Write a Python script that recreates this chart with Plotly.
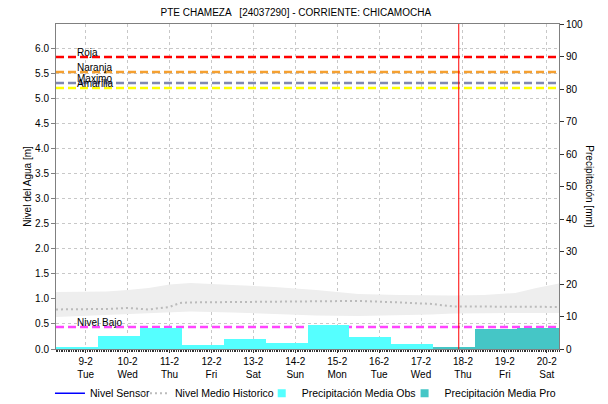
import plotly.graph_objects as go

# ---- data -------------------------------------------------------------
# daily precipitation totals (07:00 -> 07:00), mm
obs_start = ["2021-02-08", "2021-02-09", "2021-02-10", "2021-02-11", "2021-02-12",
             "2021-02-13", "2021-02-14", "2021-02-15", "2021-02-16"]
obs_mm = [0.4, 4.0, 6.6, 1.1, 3.0, 1.85, 7.4, 3.7, 1.5]

pro_start = ["2021-02-17", "2021-02-18", "2021-02-19"]
pro_mm = [0.5, 6.1, 6.5]

# historic level envelope and mean, m
hist_t = ["2021-02-08 07:00", "2021-02-09 12:00", "2021-02-10 00:00", "2021-02-10 12:00",
          "2021-02-11 00:00", "2021-02-11 06:00", "2021-02-11 12:00", "2021-02-12 12:00",
          "2021-02-13 12:00", "2021-02-14 12:00", "2021-02-15 12:00", "2021-02-16 12:00",
          "2021-02-17 06:00", "2021-02-17 18:00", "2021-02-18 12:00", "2021-02-19 06:00",
          "2021-02-19 18:00", "2021-02-20 07:00"]
hist_upper = [1.14, 1.15, 1.18, 1.22, 1.29, 1.31, 1.32, 1.28, 1.24, 1.18, 1.10, 1.08,
              1.07, 1.07, 1.08, 1.12, 1.22, 1.31]
hist_lower = [0.64, 0.68, 0.70, 0.72, 0.74, 0.75, 0.75, 0.73, 0.70, 0.67, 0.66, 0.67,
              0.69, 0.71, 0.72, 0.72, 0.72, 0.72]
hist_mean = [0.79, 0.80, 0.82, 0.79, 0.84, 0.92, 0.93, 0.94, 0.94, 0.96, 0.96, 0.93,
             0.90, 0.85, 0.85, 0.84, 0.84, 0.84]

# sensor level (no readings in this window)
sensor_t = ["2021-02-08 07:00"]
sensor_m = [None]

# alert thresholds, m
thr_names = ["Roja", "Naranja", "Maximo", "Amarilla", "Nivel Bajo"]
thr_values = [5.83, 5.53, 5.31, 5.21, 0.44]
thr_colors = ["#FF0000", "#F5A030", "#8088B0", "#FFFF00", "#FF44FF"]

now_t = "2021-02-17 21:36"

tick_vals = ["2021-02-%02d" % d for d in range(9, 21)]
tick_text = ["9-2<br>Tue", "10-2<br>Wed", "11-2<br>Thu", "12-2<br>Fri", "13-2<br>Sat",
             "14-2<br>Sun", "15-2<br>Mon", "16-2<br>Tue", "17-2<br>Wed", "18-2<br>Thu",
             "19-2<br>Fri", "20-2<br>Sat"]

x_range = ["2021-02-08 07:00", "2021-02-20 07:00"]
y_max = 6.49
DAY_MS = 86400000

OBS_COLOR = "#55FFFF"
PRO_COLOR = "#45C6C6"
FONT = "Liberation Sans, Arial, sans-serif"

fig = go.Figure()

# historic envelope
fig.add_trace(go.Scatter(x=hist_t, y=hist_lower, mode="lines", line=dict(width=0),
                         showlegend=False, hoverinfo="skip"))
fig.add_trace(go.Scatter(x=hist_t, y=hist_upper, mode="lines", line=dict(width=0),
                         fill="tonexty", fillcolor="#EEEEEE", showlegend=False,
                         hoverinfo="skip"))

# precipitation bars on the right axis (bar centred at 19:00 of its start day)
def centers(days):
    return [d + " 19:00" for d in days]

fig.add_trace(go.Bar(x=centers(obs_start), y=obs_mm, width=[DAY_MS] * len(obs_mm),
                     marker=dict(color=OBS_COLOR, line=dict(width=0)),
                     name="Precipitación Media Obs", yaxis="y2", showlegend=False,
                     legendgroup="obs"))
fig.add_trace(go.Bar(x=centers(pro_start), y=pro_mm, width=[DAY_MS] * len(pro_mm),
                     marker=dict(color=PRO_COLOR, line=dict(width=0)),
                     name="Precipitación Media Pro", yaxis="y2", showlegend=False,
                     legendgroup="pro"))

# sensor and historic mean lines
fig.add_trace(go.Scatter(x=sensor_t, y=sensor_m, mode="lines",
                         line=dict(color="#0000FF", width=1.5), name="Nivel Sensor",
                         showlegend=True, legend="legend"))
fig.add_trace(go.Scatter(x=hist_t, y=hist_mean, mode="lines",
                         line=dict(color="#BBBBBB", width=2, dash="2px,3px"),
                         name="Nivel Medio Historico", legend="legend2"))

# compact square legend keys for the two bar series
fig.add_trace(go.Scatter(x=[None], y=[None], mode="markers", name="Precipitación Media Obs",
                         marker=dict(symbol="square", size=8, color=OBS_COLOR),
                         legend="legend3", legendgroup="obs"))
fig.add_trace(go.Scatter(x=[None], y=[None], mode="markers", name="Precipitación Media Pro",
                         marker=dict(symbol="square", size=8, color=PRO_COLOR),
                         legend="legend4", legendgroup="pro"))

# threshold lines and their labels
for name, val, col in zip(thr_names, thr_values, thr_colors):
    fig.add_trace(go.Scatter(x=x_range, y=[val, val], mode="lines",
                             line=dict(color=col, width=2.5, dash="8px,4px"),
                             showlegend=False, hoverinfo="skip"))
    fig.add_annotation(x="2021-02-08 18:00", y=val, text=name, showarrow=False,
                       xanchor="left", yanchor="bottom", yshift=-3,
                       font=dict(family=FONT, size=10, color="#000000"))

# current time marker
fig.add_shape(type="line", x0=now_t, x1=now_t, y0=0, y1=1, yref="paper",
              line=dict(color="#FF0000", width=1))

# axis titles
fig.add_annotation(x=-0.057, y=0.5, xref="paper", yref="paper", text="Nivel del Agua [m]",
                   textangle=-90, showarrow=False, xanchor="center",
                   font=dict(family=FONT, size=10))
fig.add_annotation(x=1.06, y=0.5, xref="paper", yref="paper", text="Precipitación [mm]",
                   textangle=90, showarrow=False, xanchor="center",
                   font=dict(family=FONT, size=10))


def legend_box(x):
    return dict(orientation="h", x=x, xanchor="left", y=-0.136, yanchor="middle",
                font=dict(family=FONT, size=10.5), itemwidth=30,
                bgcolor="rgba(0,0,0,0)", borderwidth=0)


fig.update_layout(
    width=608, height=404,
    margin=dict(l=56, r=49, t=24, b=55, autoexpand=False),
    paper_bgcolor="white", plot_bgcolor="white",
    font=dict(family=FONT, size=10, color="#000000"),
    title=dict(text="PTE CHAMEZA   [24037290] - CORRIENTE: CHICAMOCHA",
               x=0.4865, xanchor="center", y=0.97, yanchor="middle",
               font=dict(family=FONT, size=10)),
    barmode="overlay", bargap=0,
    showlegend=True,
    legend=legend_box(-0.012),
    legend2=legend_box(0.157),
    legend3=legend_box(0.409),
    legend4=legend_box(0.693),
    xaxis=dict(type="date", range=x_range, tickvals=tick_vals, ticktext=tick_text,
               showgrid=True, gridcolor="#C8C8C8", griddash="dot", gridwidth=1,
               ticks="outside", ticklen=3, tickcolor="#333333",
               minor=dict(dtick=3600000, ticks="outside", ticklen=2, tickcolor="#333333",
                          showgrid=False),
               showline=True, linecolor="#808080", mirror=True,
               tickfont=dict(family=FONT, size=10), zeroline=False),
    yaxis=dict(range=[0, y_max], dtick=0.5, tickformat=".1f",
               showgrid=True, gridcolor="#C8C8C8", griddash="dot", gridwidth=1,
               ticks="outside", ticklen=4, tickcolor="#808080",
               showline=True, linecolor="#808080", zeroline=False,
               tickfont=dict(family=FONT, size=10)),
    yaxis2=dict(range=[0, 100], dtick=10, overlaying="y", side="right",
                showgrid=False, ticks="outside", ticklen=4, tickcolor="#333333",
                showline=True, linecolor="#808080", zeroline=False,
                tickfont=dict(family=FONT, size=10)),
)

fig.write_html("out.html")
